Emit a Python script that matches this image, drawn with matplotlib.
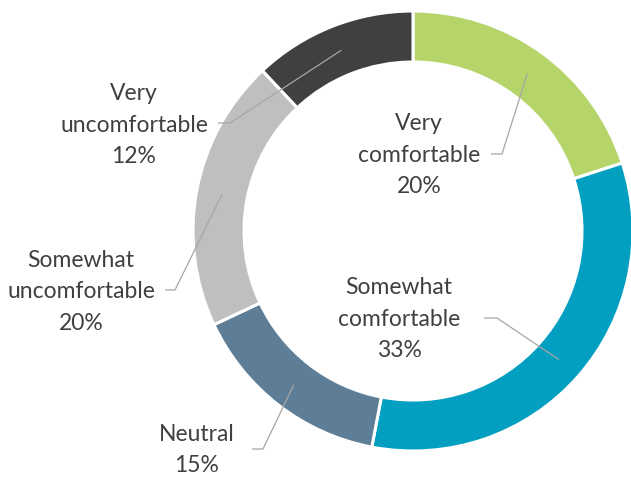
import numpy as np
import matplotlib.pyplot as plt

# Comfort survey results, drawn clockwise from 12 o'clock
categories = ["Very\ncomfortable", "Somewhat\ncomfortable", "Neutral",
              "Somewhat\nuncomfortable", "Very\nuncomfortable"]
shares = [20, 33, 15, 20, 12]
colors = ["#b5d56a", "#039fc0", "#5d7e96", "#bfbfbf", "#404040"]

# label block centres and leader ticks (pixel coords, y downwards)
label_xy = [(419, 155), (399, 319), (197, 450), (81, 292), (134, 125)]
leader_y = [154, 318, 449, 290, 123]
leader_x = [(491, 502), (484, 497), (252, 263), (165, 175), (218, 230)]

W, H = 631, 478
cx, cy, r_out, r_in = 413, 231, 220, 169

fig = plt.figure(figsize=(W / 100, H / 100), dpi=100)
ax = fig.add_axes([0, 0, 1, 1])

# y axis runs downwards, so counter-clockwise in data is clockwise on screen
wedges, _ = ax.pie(shares, colors=colors, startangle=-90, counterclock=True,
                   center=(cx, cy), radius=r_out, frame=True,
                   wedgeprops=dict(width=r_out - r_in, edgecolor="white",
                                   linewidth=2.2))
ax.set_xlim(0, W)
ax.set_ylim(H, 0)
ax.set_aspect("equal")
ax.axis("off")

r_mid = (r_out + r_in) / 2
for w, name, val, (tx, ty), ly, (x0, x1) in zip(wedges, categories, shares,
                                                label_xy, leader_y, leader_x):
    theta = np.deg2rad((w.theta1 + w.theta2) / 2)
    px, py = cx + r_mid * np.cos(theta), cy + r_mid * np.sin(theta)
    # short horizontal tick right of the text, then into the middle of the ring
    ax.plot([x0, x1, px], [ly, ly, py], color="#a6a6a6", lw=0.9,
            solid_capstyle="butt", zorder=3)
    ax.text(tx, ty, f"{name}\n{val}%", ha="center", va="center",
            multialignment="center", fontsize=16.5, family="Lato",
            color="#404040", linespacing=1.6, zorder=4)

fig.savefig("out.png", dpi=100)
